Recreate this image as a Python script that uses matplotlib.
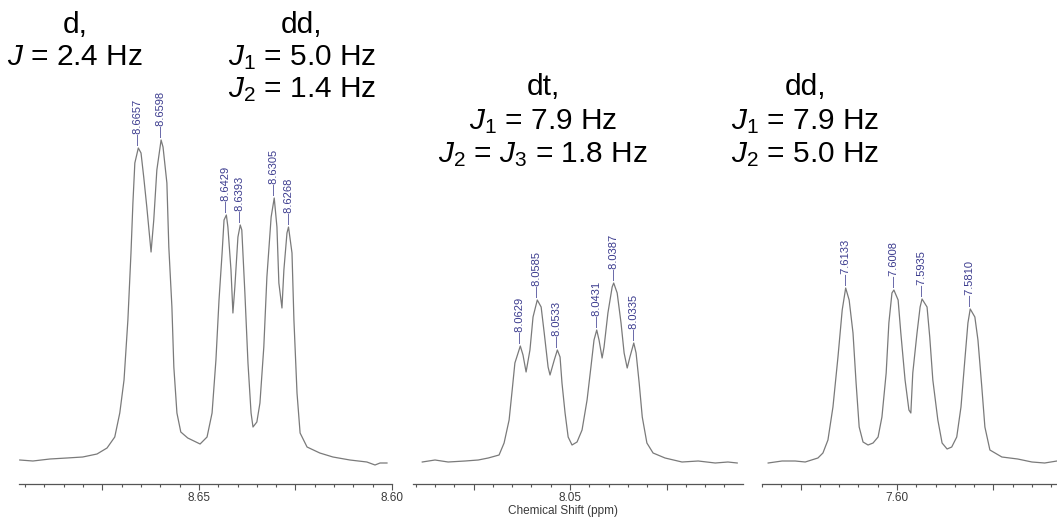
import numpy as np
import matplotlib
matplotlib.use("Agg")
import matplotlib.pyplot as plt
from matplotlib.ticker import MultipleLocator, FuncFormatter

plt.rcParams['font.family'] = 'Liberation Sans'
plt.rcParams['mathtext.fontset'] = 'custom'
plt.rcParams['mathtext.rm'] = 'Liberation Sans'
plt.rcParams['mathtext.it'] = 'Liberation Sans:italic'

# Spectrum traces: chemical shift (ppm) and intensity (a.u.)
p1_ppm = [8.6964, 8.6930, 8.6886, 8.6842, 8.6801, 8.6764, 8.6738, 8.6718, 8.6705, 8.6694,
          8.6684, 8.6676, 8.6671, 8.6666, 8.6657, 8.6650, 8.6643, 8.6635, 8.6624, 8.6617,
          8.6609, 8.6598, 8.6593, 8.6583, 8.6578, 8.6570, 8.6565, 8.6557, 8.6547, 8.6529,
          8.6497, 8.6479, 8.6466, 8.6456, 8.6448, 8.6440, 8.6435, 8.6429, 8.6425, 8.6417,
          8.6412, 8.6407, 8.6399, 8.6393, 8.6389, 8.6381, 8.6373, 8.6365, 8.6360, 8.6350,
          8.6342, 8.6332, 8.6324, 8.6313, 8.6305, 8.6298, 8.6293, 8.6285, 8.6280, 8.6272,
          8.6268, 8.6259, 8.6254, 8.6246, 8.6238, 8.6220, 8.6187, 8.6153, 8.6109, 8.6065,
          8.6044, 8.6031, 8.6013]
p1_int = [2, 1, 3, 4, 5, 8, 14, 25, 49, 82,
          142, 209, 259, 299, 314, 309, 285, 255, 210, 242,
          292, 322, 315, 279, 215, 155, 95, 49, 30, 24,
          18, 25, 49, 102, 162, 209, 242, 247, 235, 192,
          149, 175, 225, 237, 232, 169, 99, 49, 35, 40,
          59, 115, 185, 245, 264, 235, 179, 154, 192, 229,
          235, 209, 142, 69, 29, 15, 9, 5, 2, 0,
          -3, -1, -1]

p2_ppm = [8.0883, 8.0850, 8.0816, 8.0772, 8.0738, 8.0712, 8.0684, 8.0671, 8.0658, 8.0650,
          8.0643, 8.0629, 8.0622, 8.0614, 8.0604, 8.0596, 8.0585, 8.0575, 8.0567, 8.0557,
          8.0552, 8.0541, 8.0533, 8.0526, 8.0521, 8.0513, 8.0505, 8.0495, 8.0482, 8.0469,
          8.0456, 8.0446, 8.0438, 8.0431, 8.0425, 8.0417, 8.0412, 8.0402, 8.0391, 8.0387,
          8.0378, 8.0368, 8.0360, 8.0352, 8.0345, 8.0335, 8.0329, 8.0321, 8.0313, 8.0301,
          8.0285, 8.0254, 8.0210, 8.0168, 8.0124, 8.0091, 8.0067]
p2_int = [0, 2, 0, 1, 2, 4, 7, 19, 42, 72,
          99, 116, 107, 90, 112, 145, 162, 155, 129, 95,
          87, 102, 112, 105, 79, 49, 25, 17, 20, 32,
          62, 95, 122, 132, 122, 104, 115, 149, 175, 179,
          169, 139, 109, 94, 105, 119, 109, 79, 45, 19,
          9, 4, 0, 1, -1, 0, -1]

p3_ppm = [7.6334, 7.6298, 7.6264, 7.6238, 7.6205, 7.6192, 7.6179, 7.6166, 7.6153, 7.6142,
          7.6133, 7.6124, 7.6114, 7.6106, 7.6098, 7.6088, 7.6075, 7.6062, 7.6049, 7.6039,
          7.6028, 7.6021, 7.6013, 7.6008, 7.5997, 7.5990, 7.5979, 7.5969, 7.5964, 7.5959,
          7.5948, 7.5940, 7.5935, 7.5922, 7.5915, 7.5907, 7.5894, 7.5883, 7.5870, 7.5858,
          7.5845, 7.5834, 7.5824, 7.5816, 7.5810, 7.5798, 7.5790, 7.5780, 7.5772, 7.5759,
          7.5728, 7.5687, 7.5650, 7.5617, 7.5585]
p3_int = [-1, 1, 1, 0, 4, 9, 22, 55, 105, 152,
          174, 162, 129, 79, 35, 20, 17, 19, 25, 45,
          89, 139, 169, 172, 162, 129, 82, 52, 49, 89,
          129, 155, 163, 155, 125, 82, 42, 19, 13, 15,
          25, 55, 102, 139, 153, 145, 122, 75, 35, 12,
          5, 3, 0, -1, 1]

# picked peaks
p1_peaks = [8.6657, 8.6598, 8.6429, 8.6393, 8.6305, 8.6268]
p2_peaks = [8.0629, 8.0585, 8.0533, 8.0431, 8.0387, 8.0335]
p3_peaks = [7.6133, 7.6008, 7.5935, 7.5810]

# multiplet annotations
mult1 = ["d,", "$J$ = 2.4 Hz"]
mult2 = ["dd,", "$J_1$ = 5.0 Hz", "$J_2$ = 1.4 Hz"]
mult3 = ["dt,", "$J_1$ = 7.9 Hz", "$J_2$ = $J_3$ = 1.8 Hz"]
mult4 = ["dd,", "$J_1$ = 7.9 Hz", "$J_2$ = 5.0 Hz"]

W, H = 1057, 523
fig = plt.figure(figsize=(W / 100, H / 100), dpi=100)

LINE = '#7a7a7a'
PEAKCOL = '#3b3b8e'


def fmt(v, pos):
    if abs(round(v / 0.05) * 0.05 - v) < 1e-6:
        return f"{v:.2f}"
    return ""


def add_panel(x0, x1, xlim, ppm, inten, peaks):
    ax = fig.add_axes([x0 / W, (H - 484) / H, (x1 - x0) / W, 484 / H])
    ax.patch.set_visible(False)
    ax.plot(ppm, inten, color=LINE, lw=0.9)
    ax.set_xlim(*xlim)
    ax.set_ylim(-22, 462)
    for s in ['top', 'left', 'right']:
        ax.spines[s].set_visible(False)
    ax.spines['bottom'].set_color('#555555')
    ax.spines['bottom'].set_linewidth(0.9)
    ax.set_yticks([])
    ax.xaxis.set_major_locator(MultipleLocator(0.025))
    ax.xaxis.set_minor_locator(MultipleLocator(0.005))
    ax.xaxis.set_major_formatter(FuncFormatter(fmt))
    ax.tick_params(axis='x', which='major', direction='out', length=4.5, width=0.8,
                   color='#555555', labelsize=8.5, labelcolor='#3a3a3a', pad=1.5)
    ax.tick_params(axis='x', which='minor', direction='out', length=2.2, width=0.8,
                   color='#555555')
    heights = np.interp(peaks, ppm[::-1], inten[::-1])
    for p, h in zip(peaks, heights):
        ax.annotate('\u2014' + f'{p:.4f}', xy=(p, h), xytext=(0, 2),
                    textcoords='offset points', rotation=90, ha='center', va='bottom',
                    fontsize=8, color=PEAKCOL)
    return ax


add_panel(19, 392, (8.6966, 8.6000), p1_ppm, p1_int, p1_peaks)
add_panel(413, 743, (8.0907, 8.0052), p2_ppm, p2_int, p2_peaks)
add_panel(762, 1057, (7.6350, 7.5585), p3_ppm, p3_int, p3_peaks)

fig.text(563 / W, 1 - 514 / H, "Chemical Shift (ppm)", ha='center', va='baseline',
         fontsize=8.5, color='#3a3a3a')


def block(lines, xc, baselines):
    for s, yb in zip(lines, baselines):
        fig.text(xc / W, 1 - yb / H, s, ha='center', va='baseline', fontsize=21.5,
                 color='black')


block(mult1, 75, [33, 65])
block(mult2, 302, [33, 65, 97])
block(mult3, 543, [95, 129, 162])
block(mult4, 805, [95, 129, 162])

fig.savefig("out.png", dpi=100)
